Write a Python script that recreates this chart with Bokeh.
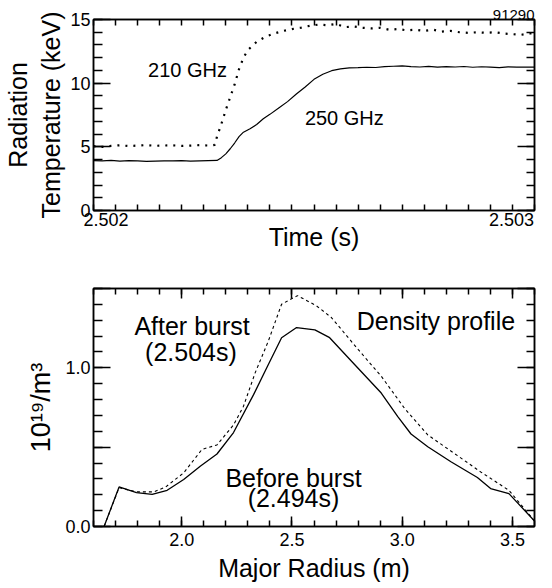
from bokeh.plotting import figure
from bokeh.models import (Range1d, LinearAxis, FixedTicker, Label,
                          SingleIntervalTicker, NumeralTickFormatter,
                          CustomJSTickFormatter)
from bokeh.layouts import column
from bokeh.embed import file_html
from bokeh.resources import INLINE

FONT = "Liberation Sans"

# ---------------- data: top panel (radiation temperature vs time) ----------------
time_250 = [2.50200, 2.50202, 2.50204, 2.50206, 2.50208, 2.50210, 2.50212, 2.50214,
            2.50216, 2.50218, 2.50220, 2.50222, 2.50224, 2.50226, 2.50228, 2.50229,
            2.50230, 2.50231, 2.50232, 2.50233, 2.50234, 2.502355, 2.50237, 2.502385,
            2.50240, 2.50242, 2.50244, 2.50246, 2.50248, 2.50250, 2.50252, 2.50254,
            2.50256, 2.50258, 2.50260, 2.50262, 2.50264, 2.50266, 2.50268, 2.50270,
            2.50272, 2.50274, 2.50276, 2.50278, 2.50280, 2.50282, 2.50284, 2.50286,
            2.50288, 2.50290, 2.50292, 2.50294, 2.50296, 2.50298, 2.50300]
temp_250 = [3.92, 3.90, 3.93, 3.88, 3.91, 3.89, 3.86, 3.88,
            3.90, 3.89, 3.91, 3.88, 3.90, 3.92, 3.93, 4.15,
            4.45, 4.85, 5.30, 5.80, 6.15, 6.42, 6.75, 7.20,
            7.55, 8.05, 8.55, 9.15, 9.70, 10.30, 10.70, 10.98,
            11.12, 11.20, 11.22, 11.25, 11.23, 11.30, 11.33, 11.36,
            11.30, 11.27, 11.32, 11.26, 11.30, 11.27, 11.31, 11.25,
            11.29, 11.26, 11.22, 11.28, 11.26, 11.27, 11.26]

time_210 = [2.50200, 2.50202, 2.50204, 2.50206, 2.50208, 2.50210, 2.50212, 2.50214,
            2.50216, 2.50218, 2.50220, 2.50222, 2.50224, 2.50226, 2.502275, 2.50228,
            2.50229, 2.50230, 2.50231, 2.50232, 2.50233, 2.50234, 2.50235, 2.50237,
            2.50239, 2.50241, 2.50243, 2.50245, 2.50247, 2.50249, 2.50251, 2.50253,
            2.50255, 2.50257, 2.50259, 2.50261, 2.50263, 2.50265, 2.50267, 2.50269,
            2.50271, 2.50273, 2.50275, 2.50277, 2.50279, 2.50281, 2.50283, 2.50285,
            2.50287, 2.50289, 2.50291, 2.50293, 2.50295, 2.50297, 2.50299, 2.50300]
temp_210 = [5.05, 5.00, 5.08, 5.12, 5.06, 5.10, 5.14, 5.08,
            5.10, 5.12, 5.07, 5.10, 5.13, 5.10, 5.15, 5.80,
            6.80, 7.90, 8.90, 9.90, 11.10, 12.00, 12.60, 13.25,
            13.65, 13.90, 14.10, 14.25, 14.35, 14.50, 14.60, 14.55,
            14.65, 14.40, 14.45, 14.35, 14.30, 14.35, 14.20, 14.25,
            14.15, 14.20, 14.10, 14.20, 14.05, 14.10, 14.00, 13.95,
            14.00, 13.95, 14.00, 13.90, 13.85, 13.80, 13.90, 13.90]

# ---------------- data: bottom panel (density profile) ----------------
radius_before = [1.648, 1.716, 1.795, 1.866, 1.934, 2.009, 2.084, 2.160, 2.235,
                 2.326, 2.393, 2.453, 2.521, 2.604, 2.671, 2.784, 2.905, 2.980,
                 3.040, 3.116, 3.221, 3.341, 3.401, 3.484, 3.600]
dens_before = [0.000, 0.249, 0.214, 0.203, 0.228, 0.296, 0.380, 0.457, 0.592,
               0.831, 1.021, 1.190, 1.254, 1.239, 1.190, 1.021, 0.841, 0.693,
               0.583, 0.503, 0.408, 0.309, 0.239, 0.207, 0.035]

radius_after = [1.648, 1.716, 1.795, 1.874, 1.927, 2.009, 2.092, 2.160, 2.235,
                2.280, 2.333, 2.393, 2.453, 2.525, 2.611, 2.679, 2.800, 2.905,
                3.010, 3.116, 3.236, 3.356, 3.484, 3.600]
dens_after = [0.000, 0.245, 0.218, 0.218, 0.249, 0.338, 0.486, 0.514, 0.640,
              0.757, 0.968, 1.169, 1.401, 1.455, 1.391, 1.317, 1.116, 0.947,
              0.746, 0.577, 0.461, 0.344, 0.228, 0.035]

# tick marks of the time axis and where its two end labels sit
top_x_ticks = [2.50200, 2.50205, 2.50210, 2.50215, 2.50220, 2.50225, 2.50230,
               2.50235, 2.50240, 2.50245, 2.50250, 2.50255, 2.50260, 2.50265,
               2.50270, 2.50275, 2.50280, 2.50285, 2.50290, 2.50295, 2.50300]
top_x_tick_labels = ["2.502", "2.503"]
top_x_label_pos = [2.5020282, 2.5029480]

NO_LABELS = "return '';"


def style_axis(ax, ticker, major_in, minor_in, label_size="18px", show_labels=True,
               standoff=3):
    ax.ticker = ticker
    ax.major_tick_in = major_in
    ax.major_tick_out = 0
    ax.minor_tick_in = minor_in
    ax.minor_tick_out = 0
    ax.axis_line_width = 1.5
    ax.major_tick_line_width = 1.5
    ax.minor_tick_line_width = 1.5
    ax.axis_line_color = "black"
    ax.major_tick_line_color = "black"
    ax.minor_tick_line_color = "black"
    ax.major_label_text_font = FONT
    ax.major_label_text_color = "black"
    ax.major_label_standoff = standoff
    ax.major_label_text_font_size = label_size
    if not show_labels:
        ax.formatter = CustomJSTickFormatter(code=NO_LABELS)
    ax.axis_label_text_font = FONT
    ax.axis_label_text_font_style = "normal"
    ax.axis_label_text_color = "black"
    ax.axis_label_text_font_size = "25px"


# ---------------- top figure ----------------
p1 = figure(width=552, height=260, x_range=Range1d(2.502, 2.503),
            y_range=Range1d(0, 15), x_axis_type=None, y_axis_type=None,
            output_backend="svg", toolbar_location=None,
            title="91290", title_location="above",
            min_border_left=91, min_border_right=18, min_border_top=19,
            min_border_bottom=50)
p1.outline_line_color = "black"
p1.outline_line_width = 1.5
p1.title.align = "right"
p1.title.text_font = FONT
p1.title.text_font_size = "15px"
p1.title.text_font_style = "normal"
p1.title.text_color = "black"
p1.title.standoff = 0
p1.title.offset = 0

# tick marks (no labels) right at the frame
ax = LinearAxis()
style_axis(ax, FixedTicker(ticks=top_x_ticks), 6, 0, "1px", show_labels=False, standoff=0)
p1.add_layout(ax, "below")
# end labels and axis title
ax2 = LinearAxis(axis_label="Time (s)")
style_axis(ax2, FixedTicker(ticks=top_x_label_pos), 0, 0, "18px", standoff=2)
ax2.formatter = CustomJSTickFormatter(args=dict(labels=top_x_tick_labels),
                                      code="return labels[index];")
ax2.axis_line_color = None
ax2.major_tick_line_color = None
ax2.axis_label_standoff = -6
p1.add_layout(ax2, "below")

ax = LinearAxis()
style_axis(ax, FixedTicker(ticks=top_x_ticks), 6, 0, "1px", show_labels=False, standoff=0)
p1.add_layout(ax, "above")
ay = LinearAxis(axis_label="Radiation\nTemperature (keV)")
style_axis(ay, SingleIntervalTicker(interval=5, num_minor_ticks=5), 17, 9, "18px")
ay.axis_label_standoff = 2
p1.add_layout(ay, "left")
ay = LinearAxis()
style_axis(ay, SingleIntervalTicker(interval=5, num_minor_ticks=5), 17, 8, "1px",
           show_labels=False, standoff=0)
p1.add_layout(ay, "right")

p1.line(time_210, temp_210, line_color="black", line_width=2.2, line_dash="2 6")
p1.line(time_250, temp_250, line_color="black", line_width=1.2)

p1.add_layout(Label(x=2.5022133, y=11.0, text="210 GHz", text_align="center",
                    text_baseline="alphabetic", text_font=FONT,
                    text_font_size="20px", text_color="black"))
p1.add_layout(Label(x=2.5025688, y=7.3, text="250 GHz", text_align="center",
                    text_baseline="alphabetic", text_font=FONT,
                    text_font_size="20px", text_color="black"))

# ---------------- bottom figure ----------------
p2 = figure(width=552, height=328, x_range=Range1d(1.6, 3.6),
            y_range=Range1d(0, 1.5), x_axis_type=None, y_axis_type=None,
            output_backend="svg", toolbar_location=None,
            min_border_left=91, min_border_right=18, min_border_top=28,
            min_border_bottom=62)
p2.outline_line_color = "black"
p2.outline_line_width = 1.5

bx = LinearAxis(axis_label="Major Radius (m)")
style_axis(bx, SingleIntervalTicker(interval=0.5, num_minor_ticks=5), 10, 6, "18px", standoff=6)
bx.formatter = NumeralTickFormatter(format="0.0")
bx.axis_label_standoff = 5
p2.add_layout(bx, "below")
bx = LinearAxis()
style_axis(bx, SingleIntervalTicker(interval=0.5, num_minor_ticks=5), 10, 6, "1px",
           show_labels=False, standoff=0)
p2.add_layout(bx, "above")
by = LinearAxis(axis_label="10¹⁹/m³")
style_axis(by, SingleIntervalTicker(interval=0.5, num_minor_ticks=5), 17, 9, "18px")
by.formatter = NumeralTickFormatter(format="0.0")
by.major_label_overrides = {0.5: "", 1.5: ""}
by.axis_label_text_font_size = "27px"
by.axis_label_standoff = 6
p2.add_layout(by, "left")
by = LinearAxis()
style_axis(by, SingleIntervalTicker(interval=0.5, num_minor_ticks=5), 17, 8, "1px",
           show_labels=False, standoff=0)
p2.add_layout(by, "right")

p2.line(radius_after, dens_after, line_color="black", line_width=1.1, line_dash="3 3")
p2.line(radius_before, dens_before, line_color="black", line_width=1.3)

for txt, xx, yy in [("After burst", 2.047, 1.262), ("(2.504s)", 2.042, 1.097),
                    ("Density profile", 3.153, 1.295), ("Before burst", 2.507, 0.304),
                    ("(2.494s)", 2.507, 0.178)]:
    p2.add_layout(Label(x=xx, y=yy, text=txt, text_align="center",
                        text_baseline="alphabetic", text_font=FONT,
                        text_font_size="25px", text_color="black"))

layout = column(p1, p2, spacing=0)
open("out.html", "w").write(file_html(layout, INLINE))
